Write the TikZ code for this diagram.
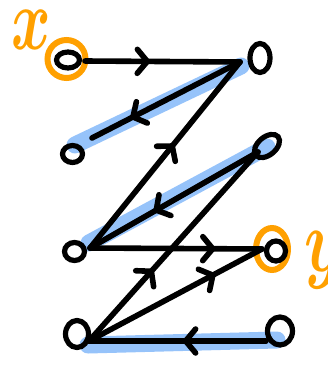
\documentclass[tikz,border=0pt]{standalone}
\usetikzlibrary{arrows.meta,decorations.markings,shapes.geometric}
\definecolor{hl}{RGB}{150,195,250}
\definecolor{org}{RGB}{255,160,0}
\begin{document}
\begin{tikzpicture}[x=1pt,y=-1pt,
  conn/.style={line width=5.6pt, line cap=round, line join=round, postaction={decorate},
    decoration={markings, mark=at position #1 with {\arrow{Straight Barb[length=10pt,width=24pt,round,line width=5.6pt]}}}},
  highlight/.style={hl, line width=17pt, line cap=round},
  ring/.style={draw, ellipse, line width=5.2pt, inner sep=0pt},
  oring/.style={draw=org, ellipse, line width=6pt, inner sep=0pt},
  lbl/.style={text=org, inner sep=0pt}]
\useasboundingbox (0,0) rectangle (328,370);
% hubs where connectors meet
\coordinate (hx) at (85,61);
\coordinate (ha) at (240,62);
\coordinate (hb) at (92,138);
\coordinate (hc) at (258,152);
\coordinate (hd) at (90,248);
\coordinate (hy) at (262,249);
\coordinate (he) at (89,341);
\coordinate (hf) at (266,341);
% highlight anchors
\coordinate (ba1) at (241,66);
\coordinate (ba2) at (75,145);
\coordinate (bc1) at (267,147);
\coordinate (bc2) at (89,243);
\coordinate (bf1) at (277,340);
\coordinate (bf2) at (88,345);
% highlights
\draw[highlight] (ba1) -- (ba2);
\draw[highlight] (bc1) -- (bc2);
\draw[highlight] (bf1) -- (bf2);
% nodes
\node[oring, minimum width=38pt, minimum height=38pt] (ox) at (66.5,59) {};
\node[ring, minimum width=23pt, minimum height=16pt] (X) at (68,60) {};
\node[ring, minimum width=20pt, minimum height=29pt] (A) at (260,58) {};
\node[ring, minimum width=20pt, minimum height=17pt] (B) at (72.5,154) {};
\node[ring, minimum width=29pt, minimum height=18pt, rotate=40] (C) at (267,146) {};
\node[ring, minimum width=20pt, minimum height=18pt] (D) at (74.5,251.5) {};
\node[oring, minimum width=32pt, minimum height=42pt] (oy) at (272,249) {};
\node[ring, minimum width=19pt, minimum height=20pt] (Y) at (276,251) {};
\node[ring, minimum width=23pt, minimum height=27pt] (E) at (77,334) {};
\node[ring, minimum width=25pt, minimum height=28pt] (F) at (280,331) {};
% connectors
\draw[conn=0.42] (hx) -- (ha);
\draw[conn=0.74] (ha) -- (hb);
\draw[conn=0.56] (hd) -- (ha);
\draw[conn=0.62] (hc) -- (hd);
\draw[conn=0.73] (hd) -- (hy);
\draw[conn=0.38] (he) -- (hc);
\draw[conn=0.73] (he) -- (hy);
\draw[conn=0.47] (hf) -- (he);
% labels
\node[lbl, anchor=north west] (lx) at (11,10) {\scalebox{6}[8.8]{\boldmath$x$}};
\node[lbl, anchor=north west] (ly) at (304,231) {\scalebox{6.3}[9]{\boldmath$y$}};
\end{tikzpicture}
\end{document}
